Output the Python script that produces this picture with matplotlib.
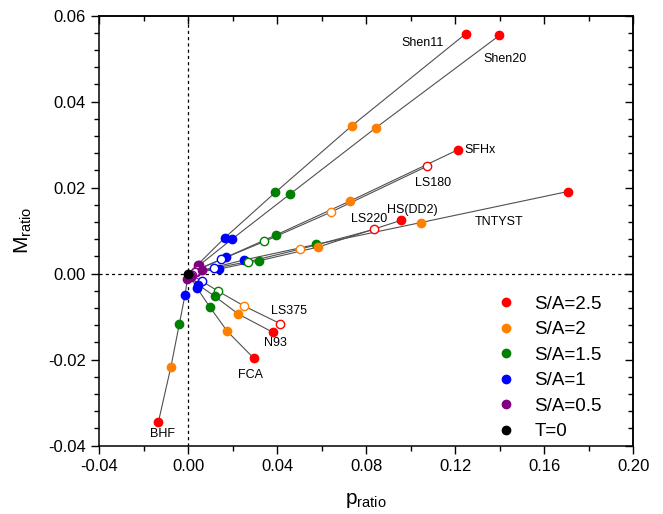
import matplotlib
matplotlib.use('Agg')

import matplotlib.pyplot as plt
import numpy as np

plt.rcParams['font.family'] = ['Liberation Sans', 'DejaVu Sans']
plt.rcParams['mathtext.fontset'] = 'custom'
plt.rcParams['mathtext.rm'] = 'Liberation Sans'

# EOS (orden de las curvas)
eos = ['Shen11', 'Shen20', 'SFHx', 'LS180', 'HS(DD2)', 'LS220', 'TNTYST', 'LS375', 'N93', 'FCA', 'BHF']
abiertos = [False, False, False, True, False, True, False, True, False, False, False]

# p_ratio y M_ratio para cada S/A
p_s05 = [0.0042, 0.0050, 0.0042, 0.0037, 0.0035, 0.0030, 0.0063, 0.0015, 0.0011, 0.0010, -0.0004]
M_s05 = [0.0021, 0.0020, 0.0010, 0.0008, 0.0003, 0.0003, 0.0008, -0.0004, -0.0006, -0.0008, -0.0012]
p_s1 = [0.0165, 0.0198, 0.0169, 0.0147, 0.0139, 0.0117, 0.0251, 0.0060, 0.0045, 0.0040, -0.0015]
M_s1 = [0.0084, 0.0081, 0.0038, 0.0033, 0.0011, 0.0013, 0.0032, -0.0017, -0.0026, -0.0034, -0.0050]
p_s15 = [0.0391, 0.0457, 0.0394, 0.0342, 0.0318, 0.0270, 0.0574, 0.0135, 0.0120, 0.0096, -0.0040]
M_s15 = [0.0189, 0.0185, 0.0090, 0.0075, 0.0030, 0.0028, 0.0068, -0.0041, -0.0053, -0.0077, -0.0116]
p_s2 = [0.0735, 0.0842, 0.0727, 0.0640, 0.0584, 0.0502, 0.1046, 0.0250, 0.0225, 0.0175, -0.0078]
M_s2 = [0.0344, 0.0339, 0.0169, 0.0143, 0.0062, 0.0057, 0.0119, -0.0075, -0.0094, -0.0134, -0.0216]
p_s25 = [0.1247, 0.1398, 0.1211, 0.1074, 0.0956, 0.0835, 0.1705, 0.0412, 0.0379, 0.0295, -0.0135]
M_s25 = [0.0558, 0.0554, 0.0288, 0.0250, 0.0124, 0.0103, 0.0191, -0.0116, -0.0136, -0.0197, -0.0346]

# posiciones de las etiquetas (coordenadas de datos)
etiqueta_x = [0.1053, 0.1424, 0.1311, 0.1100, 0.1006, 0.0814, 0.1396, 0.0453, 0.0392, 0.0280, -0.0118]
etiqueta_y = [0.0537, 0.0500, 0.0288, 0.0212, 0.0148, 0.0128, 0.0120, -0.0086, -0.0162, -0.0236, -0.0373]

series_p = [p_s25, p_s2, p_s15, p_s1, p_s05]
series_M = [M_s25, M_s2, M_s15, M_s1, M_s05]
colores = ['#ff0000', '#ff8000', '#008000', '#0000ff', '#800080']
nombres = ['S/A=2.5', 'S/A=2', 'S/A=1.5', 'S/A=1', 'S/A=0.5']

fig = plt.figure(figsize=(6.63, 5.14), dpi=100)
ax = fig.add_axes([0.1498, 0.1329, 0.8054, 0.8366])

ax.axhline(0, color='black', ls=(0, (2.5, 2.5)), lw=0.9, zorder=1)
ax.axvline(0, color='black', ls=(0, (2.5, 2.5)), lw=0.9, zorder=1)

# lineas desde T=0 hasta S/A=2.5
for i in range(len(eos)):
    xs = [0.0] + [s[i] for s in series_p[::-1]]
    ys = [0.0] + [s[i] for s in series_M[::-1]]
    ax.plot(xs, ys, '-', color='#505050', lw=0.8, zorder=2)

# puntos
for k in range(len(series_p)):
    for i in range(len(eos)):
        cara = 'white' if abiertos[i] else colores[k]
        ax.plot(series_p[k][i], series_M[k][i], 'o', ms=6, mfc=cara, mec=colores[k],
                mew=1.0, zorder=3 + (5 - k) * 0.1)
ax.plot(0, 0, 'o', ms=6, color='black', zorder=4)

for i in range(len(eos)):
    ax.text(etiqueta_x[i], etiqueta_y[i], eos[i], fontsize=9, ha='center', va='center', zorder=5)

# leyenda (solo marcadores)
handles = []
for k in range(len(nombres)):
    handles.append(ax.plot([], [], 'o', ms=6, color=colores[k], label=nombres[k])[0])
handles.append(ax.plot([], [], 'o', ms=6, color='black', label='T=0')[0])
ax.legend(handles=handles, loc='lower right', frameon=False, fontsize=13.5,
          handletextpad=0.75, labelspacing=0.45, borderaxespad=0.0, handlelength=1.5,
          bbox_to_anchor=(0.955, -0.005))

ax.set_xlim(-0.04, 0.20)
ax.set_ylim(-0.04, 0.06)
ax.set_xticks(np.arange(-0.04, 0.201, 0.04))
ax.set_xticks(np.arange(-0.04, 0.201, 0.02), minor=True)
ax.set_yticks(np.arange(-0.04, 0.061, 0.02))
ax.set_yticks(np.arange(-0.04, 0.061, 0.004), minor=True)
ax.set_xticklabels(['%.2f' % v for v in np.arange(-0.04, 0.201, 0.04)])
ax.set_yticklabels(['%.2f' % v for v in np.arange(-0.04, 0.061, 0.02)])
ax.tick_params(axis='both', which='major', direction='out', length=6, width=1.0, labelsize=12)
ax.tick_params(axis='both', which='minor', direction='out', length=3.5, width=1.0)

# ticks espejo hacia dentro en los ejes superior y derecho
sec_x = ax.secondary_xaxis('top')
sec_x.set_xticks(np.arange(-0.04, 0.201, 0.04))
sec_x.set_xticks(np.arange(-0.04, 0.201, 0.02), minor=True)
sec_x.tick_params(which='major', direction='in', length=6, width=1.0, labeltop=False)
sec_x.tick_params(which='minor', direction='in', length=3.5, width=1.0)
sec_y = ax.secondary_yaxis('right')
sec_y.set_yticks(np.arange(-0.04, 0.061, 0.02))
sec_y.set_yticks(np.arange(-0.04, 0.061, 0.004), minor=True)
sec_y.tick_params(which='major', direction='in', length=6, width=1.0, labelright=False)
sec_y.tick_params(which='minor', direction='in', length=3.5, width=1.0)
for s in ax.spines.values():
    s.set_linewidth(1.1)
sec_x.spines['top'].set_linewidth(1.1)
sec_y.spines['right'].set_linewidth(1.1)

ax.set_xlabel(r'p$_{\mathrm{ratio}}$', fontsize=15, labelpad=12)
ax.set_ylabel(r'M$_{\mathrm{ratio}}$', fontsize=15, labelpad=10)

fig.savefig('out.png', dpi=100)
